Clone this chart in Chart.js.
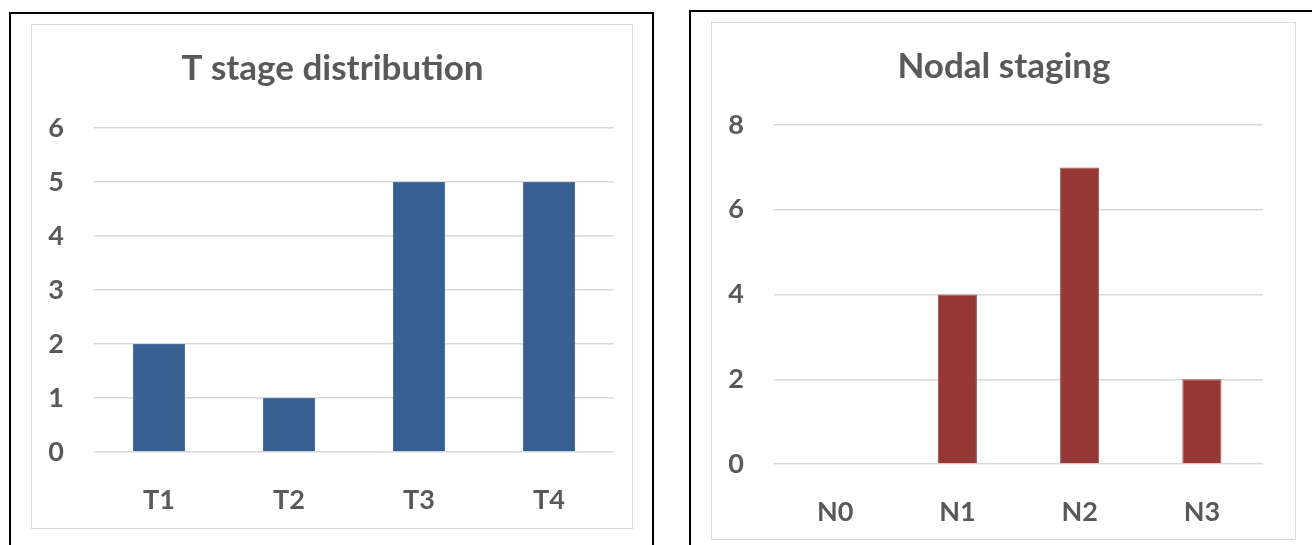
<!DOCTYPE html>
<html>
<head>
<meta charset="utf-8">
<script src="https://cdn.jsdelivr.net/npm/chart.js@4/dist/chart.umd.min.js"></script>
<style>
  body { margin: 0; width: 1312px; height: 545px; overflow: hidden; background: #fff; position: relative; }
  .frame { position: absolute; border: 2px solid #000; box-sizing: border-box; }
  .box { position: absolute; border: 1px solid #d9d9d9; box-sizing: border-box; background: #fff; }
  .box canvas { position: absolute; left: 0; top: 0; }
</style>
</head>
<body>
  <div class="frame" style="left:9px; top:12px; width:645px; height:600px;"></div>
  <div class="frame" style="left:689px; top:10px; width:700px; height:600px;"></div>

  <div class="box" style="left:31px; top:24px; width:602px; height:505px;">
    <canvas id="tChart" width="601" height="504"></canvas>
  </div>
  <div class="box" style="left:711px; top:22px; width:585px; height:518px;">
    <canvas id="nChart" width="584" height="517"></canvas>
  </div>

<script>
const tStageLabels = ["T1", "T2", "T3", "T4"];
const tStageCounts = [2, 1, 5, 5];
const tStageAxis = { max: 6, step: 1 };

const nodalLabels = ["N0", "N1", "N2", "N3"];
const nodalCounts = [0, 4, 7, 2];
const nodalAxis = { max: 8, step: 2 };

const textColor = "#595959";
const fontFamily = "Lato, 'Open Sans', sans-serif";

function makeBarChart(id, title, labels, values, axis, opts) {
  const ctx = document.getElementById(id);
  return new Chart(ctx, {
    type: "bar",
    data: {
      labels: labels,
      datasets: [
        {
          data: values,
          backgroundColor: opts.color,
          borderColor: opts.edge,
          borderWidth: 1,
          categoryPercentage: 1,
          barPercentage: opts.barWidth,
        },
      ],
    },
    options: {
      responsive: false,
      animation: false,
      plugins: {
        legend: { display: false },
        tooltip: { enabled: false },
        title: {
          display: true,
          text: title,
          color: textColor,
          font: { family: fontFamily, size: 35, weight: "bold" },
          padding: { top: opts.titleTop, bottom: opts.titleBottom },
        },
      },
      scales: {
        x: {
          grid: { display: false },
          border: { display: false },
          ticks: {
            color: textColor,
            font: { family: fontFamily, size: 27, weight: "bold" },
            padding: 24,
          },
          afterFit: (scale) => {
            scale.height = opts.bottom;
          },
        },
        y: {
          min: 0,
          max: axis.max,
          ticks: {
            stepSize: axis.step,
            color: textColor,
            font: { family: fontFamily, size: 27, weight: "bold" },
            padding: 30,
          },
          grid: { color: "#d9d9d9", lineWidth: 1.5, drawTicks: false },
          border: { display: false },
          afterFit: (scale) => {
            scale.width = 62;
          },
        },
        // empty right-hand axis: only reserves the gap right of the plot,
        // so the title stays centred on the whole canvas
        gap: {
          position: "right",
          grid: { display: false },
          border: { display: false },
          ticks: { display: false },
          afterFit: (scale) => {
            scale.width = opts.right;
          },
        },
      },
    },
  });
}

// title block = 35 * 1.2 + top + bottom padding, keeps plot tops at the same place
makeBarChart("tChart", "T stage distribution", tStageLabels, tStageCounts, tStageAxis, {
  color: "#365f92",
  edge: "#4a74a6",
  barWidth: 0.4,
  right: 19,
  bottom: 77,
  titleTop: 23,
  titleBottom: 38,
});

makeBarChart("nChart", "Nodal staging", nodalLabels, nodalCounts, nodalAxis, {
  color: "#953735",
  edge: "#a44c4a",
  barWidth: 0.32,
  right: 33,
  bottom: 76,
  titleTop: 23,
  titleBottom: 37,
});
</script>
</body>
</html>
